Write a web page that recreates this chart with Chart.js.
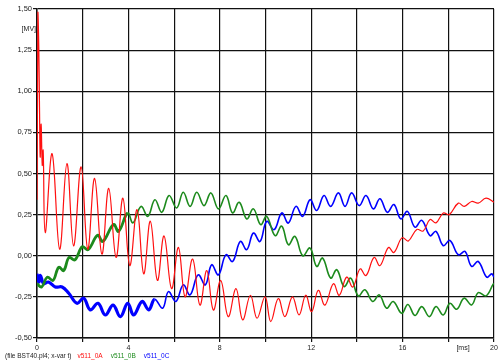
<!DOCTYPE html>
<html>
<head>
<meta charset="utf-8">
<script src="https://cdn.jsdelivr.net/npm/chart.js@4/dist/chart.umd.min.js"></script>
<style>
  html, body { margin: 0; padding: 0; background: #fff; }
  #wrap { position: relative; width: 502px; height: 364px; }
</style>
</head>
<body>
<div id="wrap"><canvas id="emtpChart" width="502" height="364"></canvas></div>
<script>
// time in ms, voltage in MV (peaks and troughs)
const tA = [0, 0.04, 0.08, 0.11, 0.14, 0.18, 0.23, 0.27, 0.36, 0.66, 0.99, 1.31, 1.6, 1.93, 2.22, 2.52, 2.84, 3.14, 3.46, 3.76,
  4.06, 4.38, 4.67, 4.96, 5.27, 5.56, 5.89, 6.19, 6.48, 6.81, 7.13, 7.43, 7.72, 8.04, 8.37, 8.71, 9.0, 9.34, 9.63, 9.98,
  10.23, 10.56, 10.85, 11.18, 11.47, 11.76, 12.02, 12.31, 12.6, 12.97, 13.23, 13.55, 13.82, 14.14, 14.4, 14.75, 15.01, 15.38, 15.62, 15.98,
  16.25, 16.62, 16.9, 17.2, 17.46, 17.78, 18.04, 18.44, 18.7, 19.02, 19.31, 19.65, 20];
const vA = [0.34, 1.48, 1.25, 0.9, 0.6, 0.8, 0.55, 0.64, 0.14, 0.62, 0.04, 0.56, 0.06, 0.54, 0.04, 0.47, 0.01, 0.41, -0.01, 0.35,
  -0.06, 0.28, -0.11, 0.21, -0.15, 0.12, -0.20, 0.05, -0.25, -0.02, -0.30, -0.09, -0.33, -0.15, -0.37, -0.20, -0.39, -0.24, -0.38, -0.25,
  -0.40, -0.26, -0.37, -0.25, -0.36, -0.24, -0.34, -0.21, -0.30, -0.17, -0.24, -0.13, -0.19, -0.08, -0.12, -0.01, -0.06, 0.05, 0.02, 0.11,
  0.09, 0.16, 0.15, 0.22, 0.20, 0.26, 0.25, 0.32, 0.30, 0.33, 0.32, 0.35, 0.325];

const tB = [0, 0.2, 0.45, 0.7, 0.95, 1.17, 1.4, 1.66, 1.98, 2.24, 2.65, 2.88, 3.35, 3.57, 3.97, 4.2, 4.55, 4.85, 5.16, 5.46,
  5.78, 6.11, 6.4, 6.7, 6.99, 7.31, 7.61, 7.94, 8.27, 8.56, 8.85, 9.18, 9.47, 9.79, 10.05, 10.42, 10.71, 11.0, 11.29, 11.63,
  11.95, 12.24, 12.5, 12.85, 13.12, 13.44, 13.73, 14.06, 14.35, 14.69, 14.98, 15.3, 15.59, 15.96, 16.23, 16.54, 16.84, 17.17, 17.46, 17.78,
  18.07, 18.37, 18.69, 19.02, 19.31, 19.65, 19.97, 20];
const vB = [-0.17, -0.19, -0.13, -0.15, -0.07, -0.09, -0.01, -0.025, 0.055, 0.037, 0.125, 0.087, 0.19, 0.148, 0.26, 0.2, 0.3, 0.24, 0.34, 0.264,
  0.366, 0.29, 0.386, 0.30, 0.386, 0.305, 0.382, 0.285, 0.366, 0.26, 0.325, 0.224, 0.285, 0.189, 0.24, 0.122, 0.18, 0.067, 0.118, 0.0,
  0.047, -0.065, -0.014, -0.136, -0.085, -0.187, -0.136, -0.244, -0.207, -0.278, -0.238, -0.319, -0.278, -0.35, -0.296, -0.363, -0.309, -0.37, -0.309, -0.36,
  -0.289, -0.325, -0.258, -0.299, -0.224, -0.244, -0.171, -0.17];

const tC = [0, 0.08, 0.15, 0.29, 0.5, 0.8, 1.1, 1.39, 1.75, 2.04, 2.33, 2.67, 2.99, 3.33, 3.65, 3.97, 4.23, 4.6, 4.89, 5.15,
  5.5, 5.75, 6.08, 6.4, 6.7, 7.05, 7.37, 7.64, 7.94, 8.27, 8.56, 8.9, 9.18, 9.47, 9.76, 10.05, 10.38, 10.71, 11.0, 11.33,
  11.63, 11.95, 12.24, 12.56, 12.85, 13.19, 13.48, 13.77, 14.1, 14.4, 14.72, 15.01, 15.33, 15.62, 15.92, 16.21, 16.54, 16.84, 17.2, 17.46,
  17.78, 18.07, 18.44, 18.73, 19.02, 19.31, 19.68, 19.9, 20];
const vC = [-0.11, -0.16, -0.12, -0.17, -0.16, -0.19, -0.19, -0.228, -0.289, -0.258, -0.329, -0.289, -0.36, -0.30, -0.37, -0.289, -0.36, -0.278, -0.329, -0.265,
  -0.319, -0.218, -0.278, -0.177, -0.238, -0.116, -0.177, -0.055, -0.116, 0.006, -0.035, 0.087, 0.037, 0.138, 0.087, 0.209, 0.159, 0.26, 0.199, 0.30,
  0.24, 0.341, 0.275, 0.366, 0.30, 0.382, 0.30, 0.382, 0.305, 0.366, 0.285, 0.346, 0.264, 0.311, 0.224, 0.27, 0.174, 0.215, 0.122, 0.148,
  0.061, 0.093, 0.006, 0.026, -0.065, -0.035, -0.13, -0.11, -0.13];

const seriesNames = ['v511_0A', 'v511_0B', 'v511_0C'];
const seriesColors = ['#ff1010', '#1c8a1c', '#0000ff'];
const fileNote = '(file BST40.pl4; x-var t)';
const yUnit = '[MV]';
const xUnit = '[ms]';

const toPoints = (ts, vs) => ts.map((t, i) => ({ x: t, y: vs[i] }));
const FONT = "'Liberation Sans', Arial, sans-serif";

// unit labels and the legend line under the axis
const annotations = {
  id: 'annotations',
  afterDraw(chart) {
    const { ctx, chartArea } = chart;
    ctx.save();
    ctx.font = '7px ' + FONT;
    ctx.fillStyle = '#222';
    ctx.textBaseline = 'middle';
    ctx.textAlign = 'right';
    ctx.fillText(yUnit, chartArea.left - 1, 29);
    ctx.textAlign = 'center';
    ctx.fillText(xUnit, 463, 348);

    ctx.textAlign = 'left';
    ctx.font = '6.5px ' + FONT;
    let x = 5;
    const y = 356;
    ctx.fillText(fileNote, x, y);
    x += ctx.measureText(fileNote).width + 6;
    chart.data.datasets.forEach((ds) => {
      ctx.fillStyle = ds.borderColor;
      ctx.fillText(ds.label, x, y);
      x += ctx.measureText(ds.label).width + 8;
    });
    ctx.restore();
  }
};

const widthBefore = (limit, thick, thin) => ({
  borderWidth: (c) => (c.p1.parsed.x <= limit ? thick : thin)
});

new Chart(document.getElementById('emtpChart'), {
  type: 'line',
  data: {
    datasets: [
      { label: seriesNames[0], data: toPoints(tA, vA), borderColor: seriesColors[0], borderWidth: 1.2 },
      { label: seriesNames[1], data: toPoints(tB, vB), borderColor: seriesColors[1], borderWidth: 1.6,
        segment: widthBefore(4, 2.8, 1.6) },
      { label: seriesNames[2], data: toPoints(tC, vC), borderColor: seriesColors[2], borderWidth: 1.6,
        segment: widthBefore(5.2, 3.2, 1.6) }
    ]
  },
  options: {
    responsive: false,
    animation: false,
    parsing: false,
    elements: {
      point: { radius: 0 },
      line: { tension: 0.4, fill: false }
    },
    layout: { padding: { top: 9, right: 8, left: 0, bottom: 0 } },
    plugins: {
      legend: { display: false },
      tooltip: { enabled: false }
    },
    scales: {
      x: {
        type: 'linear',
        min: 0,
        max: 20,
        afterFit: (s) => { s.height = 26; },
        ticks: {
          stepSize: 2,
          maxRotation: 0,
          autoSkip: false,
          padding: 2,
          color: '#222',
          font: { family: FONT, size: 7 },
          callback: (v) => (v % 4 === 0 ? String(v) : '')
        },
        grid: { color: '#111', lineWidth: 1.2, tickLength: 4, tickColor: '#111' },
        border: { color: '#111', width: 1.5 }
      },
      y: {
        min: -0.5,
        max: 1.5,
        afterFit: (s) => { s.width = 37; },
        ticks: {
          stepSize: 0.25,
          padding: 1,
          color: '#222',
          font: { family: FONT, size: 7.5 },
          callback: (v) => v.toFixed(2).replace('.', ',')
        },
        grid: { color: '#111', lineWidth: 1.2, tickLength: 4, tickColor: '#111' },
        border: { color: '#111', width: 1.5 }
      }
    }
  },
  plugins: [annotations]
});
</script>
</body>
</html>
